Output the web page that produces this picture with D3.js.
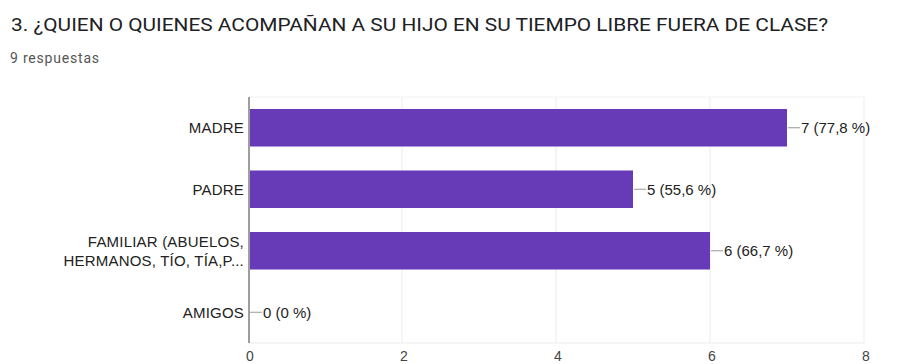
<!DOCTYPE html>
<html>
<head>
<meta charset="utf-8">
<script src="https://cdn.jsdelivr.net/npm/d3@7"></script>
<style>
  html, body { margin: 0; padding: 0; background: #fff; }
  svg { display: block; }
</style>
</head>
<body>
<svg id="chart" width="914" height="364"></svg>
<script>
const title = "3. ¿QUIEN O QUIENES ACOMPAÑAN A SU HIJO EN SU TIEMPO LIBRE FUERA DE CLASE?";
const subtitle = "9 respuestas";
const categories = ["MADRE", "PADRE", "FAMILIAR (ABUELOS, HERMANOS, TÍO, TÍA,P...", "AMIGOS"];
const categoryLines = [["MADRE"], ["PADRE"], ["FAMILIAR (ABUELOS,", "HERMANOS, TÍO, TÍA,P..."], ["AMIGOS"]];
const counts = [7, 5, 6, 0];
const percents = ["77,8", "55,6", "66,7", "0"];
const xTicks = [0, 2, 4, 6, 8];

const svg = d3.select("#chart");
const plotLeft = 248, plotRight = 864, plotTop = 97, plotBottom = 343;
const labelFont = "Arial, 'Liberation Sans', sans-serif";

const x = d3.scaleLinear().domain([0, 8]).range([plotLeft, plotRight]);
const y = d3.scaleBand().domain(categories).range([plotTop, plotBottom]).paddingInner(0.39).paddingOuter(0.195);

// header
svg.append("text")
  .attr("x", 11).attr("y", 31)
  .attr("font-family", "Roboto, 'Open Sans', sans-serif")
  .attr("font-size", 18)
  .attr("fill", "#202124")
  .attr("textLength", 817)
  .attr("lengthAdjust", "spacingAndGlyphs")
  .text(title);

svg.append("text")
  .attr("x", 10).attr("y", 63)
  .attr("font-family", "Roboto, 'Open Sans', sans-serif")
  .attr("font-size", 14)
  .attr("letter-spacing", 0.8)
  .attr("fill", "#555")
  .text(subtitle);

// gridlines
const grid = svg.append("g");
grid.selectAll("line.v").data(xTicks.slice(1)).join("line")
  .attr("x1", d => x(d)).attr("x2", d => x(d))
  .attr("y1", plotTop).attr("y2", plotBottom)
  .attr("stroke", "#ebebeb").attr("stroke-width", 1);
grid.append("line")
  .attr("x1", plotLeft).attr("x2", plotRight).attr("y1", plotTop).attr("y2", plotTop)
  .attr("stroke", "#f2f2f2");
grid.append("line")
  .attr("x1", plotLeft).attr("x2", plotRight).attr("y1", plotBottom).attr("y2", plotBottom)
  .attr("stroke", "#ebebeb");

// bars
svg.append("g").selectAll("rect").data(counts).join("rect")
  .attr("x", x(0))
  .attr("y", (d, i) => y(categories[i]))
  .attr("width", d => x(d) - x(0))
  .attr("height", y.bandwidth())
  .attr("fill", "#673ab7");

// baseline axis
svg.append("line")
  .attr("x1", x(0) + 1).attr("x2", x(0) + 1)
  .attr("y1", plotTop).attr("y2", plotBottom)
  .attr("stroke", "#9e9e9e").attr("stroke-width", 2);

// x axis tick labels
const xAxis = d3.axisBottom(x).tickValues(xTicks).tickSize(0).tickPadding(8);
const gx = svg.append("g").attr("transform", `translate(1.5,${plotBottom})`).call(xAxis);
gx.select(".domain").remove();
gx.selectAll("text")
  .attr("font-family", labelFont)
  .attr("font-size", 14)
  .attr("fill", "#444");

// category labels
const cat = svg.append("g").selectAll("text").data(categoryLines).join("text")
  .attr("text-anchor", "end")
  .attr("font-family", labelFont)
  .attr("font-size", 15)
  .attr("letter-spacing", 0.2)
  .attr("fill", "#222");
cat.each(function(lines, i) {
  const cy = y(categories[i]) + y.bandwidth() / 2;
  const lh = 19;
  const start = cy - (lines.length - 1) * lh / 2;
  d3.select(this).selectAll("tspan").data(lines).join("tspan")
    .attr("x", x(0) - 4)
    .attr("y", (d, j) => start + j * lh)
    .attr("dy", "0.36em")
    .text(d => d);
});

// value annotations with leader lines
const ann = svg.append("g");
counts.forEach((v, i) => {
  const cy = y(categories[i]) + y.bandwidth() / 2;
  const x0 = x(v) + (v === 0 ? 2 : 1);
  ann.append("line")
    .attr("x1", x0).attr("x2", x0 + 12)
    .attr("y1", cy).attr("y2", cy)
    .attr("stroke", "#999").attr("stroke-width", 1);
  ann.append("text")
    .attr("x", x0 + 13).attr("y", cy).attr("dy", "0.36em")
    .attr("font-family", labelFont)
    .attr("font-size", 15)
    .attr("fill", "#222")
    .text(`${v} (${percents[i]} %)`);
});
</script>
</body>
</html>
